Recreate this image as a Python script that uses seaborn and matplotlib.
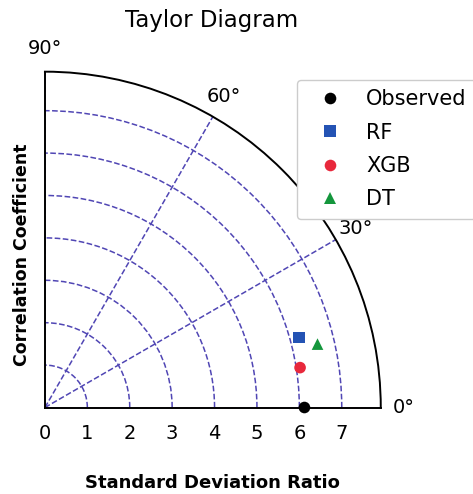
import numpy as np
import pandas as pd
import matplotlib
matplotlib.use("Agg")
import matplotlib.pyplot as plt
import seaborn as sns

# Data
models = ["Observed", "RF", "XGB", "DT"]
std_ratio = [6.12, 6.22, 6.09, 6.60]
correlation = [1.0, 0.964, 0.988, 0.974]
colors = ["#000000", "#2453b4", "#e8283c", "#14963c"]
markers = ["o", "s", "o", "^"]
r_ticks = [0, 1, 2, 3, 4, 5, 6, 7]
theta_ticks = [0, 30, 60, 90]
r_max = 7.92

sns.set_theme(style="white")
plt.rcParams['font.family'] = ['DejaVu Sans']
plt.rcParams.update({"text.color": "black", "xtick.color": "black",
                     "ytick.color": "black", "axes.labelcolor": "black"})

df = pd.DataFrame({
    "model": models,
    "std": std_ratio,
    "theta": np.arccos(np.array(correlation)),
})

fig = plt.figure(figsize=(4.73, 4.94), dpi=100)
ax = fig.add_axes([0.095, 0.17, 0.71, 0.69], projection="polar")
ax.set_thetamin(0)
ax.set_thetamax(90)
ax.set_rlim(0, r_max)

sns.scatterplot(
    data=df, x="theta", y="std", hue="model", style="model",
    palette=dict(zip(models, colors)), markers=dict(zip(models, markers)),
    hue_order=models, style_order=models,
    s=70, linewidth=0, ax=ax, zorder=5, clip_on=False,
)

ax.set_thetagrids(theta_ticks, labels=[f"{t}°" for t in theta_ticks])
ax.set_rticks(r_ticks)
ax.set_yticklabels([str(t) for t in r_ticks])
ax.tick_params(axis="x", labelsize=14, colors="black")
ax.tick_params(axis="y", labelsize=14, colors="black", pad=6)
ax.grid(True, color="#5046b4", linestyle="--", linewidth=1.1)
for sp in ax.spines.values():
    sp.set_color("black")
    sp.set_linewidth(1.4)
ax.set_xlabel("")
ax.set_ylabel("")

handles, labels = ax.get_legend_handles_labels()
ax.legend(handles, labels, loc="upper left", bbox_to_anchor=(0.628, 1 - 80/494),
          bbox_transform=fig.transFigure, fontsize=15, frameon=True,
          labelspacing=0.64, handlelength=2.3, handletextpad=0.56,
          borderpad=0.45, framealpha=1, borderaxespad=0, edgecolor="#cccccc")

fig.text(212/473, 1 - 20/494, "Taylor Diagram", ha="center", va="center", fontsize=16.5)
fig.text(212/473, 1 - 483/494, "Standard Deviation Ratio", ha="center", va="center",
         fontsize=13, fontweight="bold")
fig.text(22/473, 1 - 255/494, "Correlation Coefficient", ha="center", va="center",
         fontsize=12.5, fontweight="bold", rotation=90)

fig.savefig("out.png", dpi=100)
